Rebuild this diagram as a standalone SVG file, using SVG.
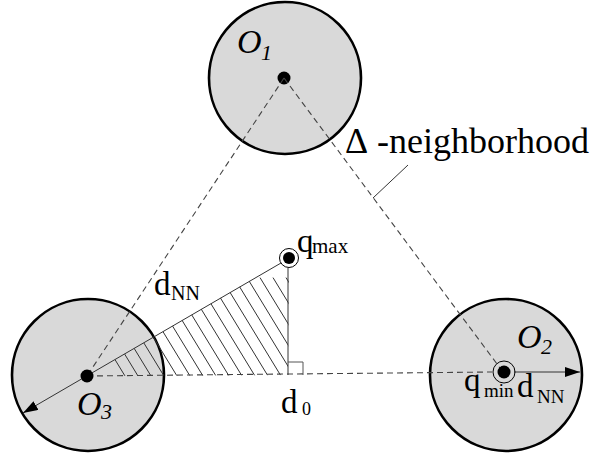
<svg xmlns="http://www.w3.org/2000/svg" width="598" height="458" viewBox="0 0 598 458" font-family="Liberation Serif, Times New Roman, serif">
<defs>
<marker id="ah" markerUnits="userSpaceOnUse" markerWidth="16" markerHeight="12" refX="15" refY="5" orient="auto">
<path d="M0,0 L15,5 L0,10 z" fill="#000"/>
</marker>
<clipPath id="tri"><polygon points="87,376 289,258 288,375"/></clipPath>
</defs>

<g id="node-O1">
<circle cx="285" cy="78" r="76" fill="#d9d9d9" stroke="#000" stroke-width="2.6"/>
<circle cx="284" cy="78" r="6.5" fill="#000"/>
<text x="237" y="53" font-size="34" font-style="italic" font-family="serif">O</text>
<text x="261" y="60" font-size="22" font-style="italic" font-family="serif">1</text>
</g>

<g id="node-O3">
<circle cx="88" cy="375" r="76" fill="#d9d9d9" stroke="#000" stroke-width="2.6"/>
</g>

<g id="node-O2">
<circle cx="506" cy="375" r="76" fill="#d9d9d9" stroke="#000" stroke-width="2.6"/>
</g>

<g id="hatching" clip-path="url(#tri)" stroke="#333" stroke-width="1">
<line x1="125" y1="376" x2="65" y2="277.6"/>
<line x1="138" y1="376" x2="78" y2="277.6"/>
<line x1="151" y1="376" x2="91" y2="277.6"/>
<line x1="164" y1="376" x2="104" y2="277.6"/>
<line x1="177" y1="376" x2="117" y2="277.6"/>
<line x1="190" y1="376" x2="130" y2="277.6"/>
<line x1="203" y1="376" x2="143" y2="277.6"/>
<line x1="216" y1="376" x2="156" y2="277.6"/>
<line x1="229" y1="376" x2="169" y2="277.6"/>
<line x1="242" y1="376" x2="182" y2="277.6"/>
<line x1="255" y1="376" x2="195" y2="277.6"/>
<line x1="268" y1="376" x2="208" y2="277.6"/>
<line x1="281" y1="376" x2="221" y2="277.6"/>
<line x1="294" y1="376" x2="234" y2="277.6"/>
<line x1="307" y1="376" x2="247" y2="277.6"/>
<line x1="320" y1="376" x2="260" y2="277.6"/>
<line x1="333" y1="376" x2="273" y2="277.6"/>
<line x1="346" y1="376" x2="286" y2="277.6"/>
</g>

<g id="connectors" fill="none" stroke="#333" stroke-width="1">
<g stroke="#444" stroke-width="1.1" stroke-dasharray="6 4">
<line x1="284" y1="78" x2="87" y2="376"/>
<line x1="284" y1="78" x2="503" y2="372"/>
<line x1="87" y1="376" x2="492" y2="372"/>
</g>
<line x1="373" y1="198" x2="408" y2="165"/>
<line x1="281" y1="263" x2="23" y2="413" marker-end="url(#ah)"/>
<line x1="288" y1="268" x2="288" y2="375"/>
<polyline points="288,362 303,362 303,375" stroke="#555"/>
<line x1="514" y1="372" x2="580" y2="372" marker-end="url(#ah)"/>
</g>

<g id="node-O3-dot">
<circle cx="87" cy="376" r="6.5" fill="#000"/>
<text x="77" y="415" font-size="34" font-style="italic" font-family="serif">O</text>
<text x="101" y="419" font-size="22" font-style="italic" font-family="serif">3</text>
</g>

<g id="node-qmax">
<circle cx="289" cy="258" r="9.5" fill="none" stroke="#000" stroke-width="1"/>
<circle cx="289" cy="258" r="6" fill="#000"/>
<text x="297" y="252" font-size="33" font-family="serif">q</text>
<text x="312" y="253" font-size="21" font-family="serif">max</text>
</g>

<g id="node-qmin">
<circle cx="504" cy="372" r="11" fill="none" stroke="#000" stroke-width="1"/>
<circle cx="504" cy="372" r="6.5" fill="#000"/>
<text x="517" y="348" font-size="34" font-style="italic" font-family="serif">O</text>
<text x="541" y="354" font-size="22" font-style="italic" font-family="serif">2</text>
<text x="464" y="391" font-size="33" font-family="serif">q</text>
<text x="484" y="397" font-size="19" font-family="serif">min</text>
<text x="517" y="397" font-size="33" font-family="serif">d</text>
<text x="537" y="403" font-size="19" font-family="serif">NN</text>
</g>

<g id="labels">
<text x="345" y="153" font-size="36" font-family="serif">Δ</text>
<text x="377" y="153" font-size="36" font-family="serif">-neighborhood</text>
<text x="154" y="295" font-size="33" font-family="serif">d</text>
<text x="171" y="300" font-size="20" font-family="serif">NN</text>
<text x="281" y="413" font-size="33" font-family="serif">d</text>
<text x="302" y="415" font-size="18" font-family="serif">0</text>
</g>
</svg>
